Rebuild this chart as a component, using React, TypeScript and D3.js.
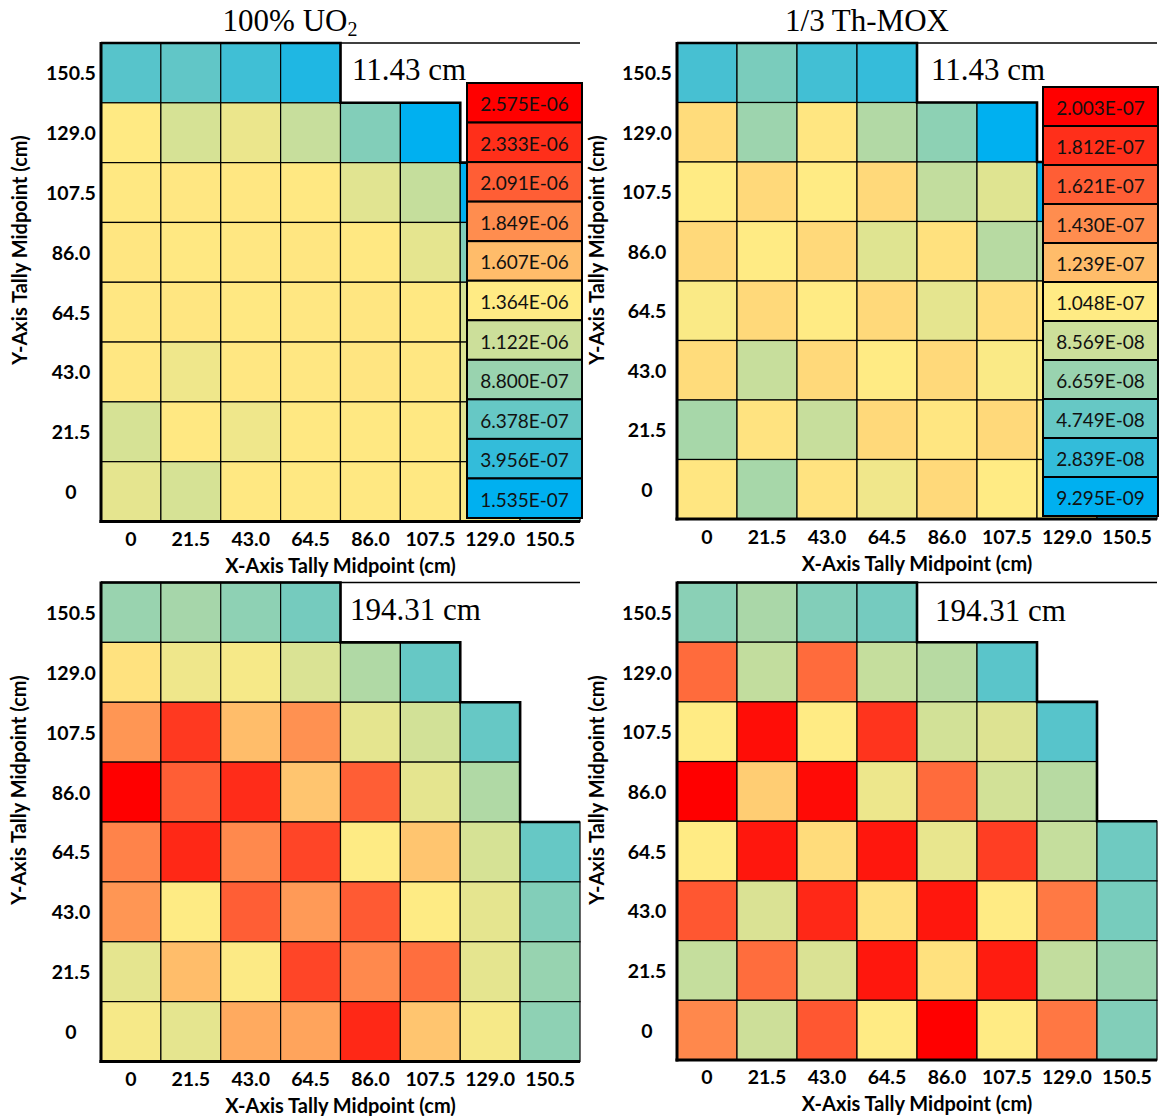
import React from 'react';
import * as d3 from 'd3';

// ---------- data ----------
const xTicks = ['0', '21.5', '43.0', '64.5', '86.0', '107.5', '129.0', '150.5'];
const yTicks = ['150.5', '129.0', '107.5', '86.0', '64.5', '43.0', '21.5', '0'];
const rowLengths = [4, 6, 7, 7, 8, 8, 8, 8];

// UO2 values in units of 1E-06, Th-MOX in units of 1E-08
const uo2Unit = 1e-6;
const thmoxUnit = 1e-8;

const uo2Legend = [2.575, 2.333, 2.091, 1.849, 1.607, 1.364, 1.122, 0.88, 0.6378, 0.3956, 0.1535];
const thmoxLegend = [20.03, 18.12, 16.21, 14.3, 12.39, 10.48, 8.569, 6.659, 4.749, 2.839, 0.9295];

const uo2At1143 = [
  [0.565, 0.615, 0.456, 0.299],
  [1.37, 1.17, 1.27, 1.1, 0.77, 0.1535],
  [1.38, 1.385, 1.385, 1.38, 1.22, 1.09, 0.16],
  [1.39, 1.38, 1.385, 1.39, 1.38, 1.24, 0.76],
  [1.385, 1.39, 1.38, 1.385, 1.39, 1.38, 1.17, 0.7],
  [1.385, 1.29, 1.385, 1.385, 1.395, 1.385, 1.2, 0.7],
  [1.17, 1.38, 1.29, 1.38, 1.38, 1.38, 1.22, 0.75],
  [1.24, 1.17, 1.38, 1.38, 1.38, 1.38, 1.32, 0.7],
];

const thmoxAt1143 = [
  [3.6, 5.5, 3.4, 2.9],
  [11.1, 6.8, 10.7, 7.6, 6.2, 0.93],
  [10.5, 11.2, 10.5, 11.2, 8.2, 9.3, 1.0],
  [11.2, 10.5, 11.2, 9.3, 10.9, 7.8, 7.8],
  [10.3, 11.2, 10.5, 11.2, 9.5, 11.0, 10.6, 5.0],
  [11.1, 8.4, 11.2, 10.5, 11.2, 10.3, 10.5, 4.5],
  [7.2, 10.8, 8.4, 11.2, 10.7, 11.2, 10.4, 4.0],
  [10.7, 7.2, 10.8, 9.9, 11.2, 10.5, 10.4, 3.0],
];

const uo2At19431 = [
  [0.88, 0.94, 0.83, 0.71],
  [1.41, 1.29, 1.32, 1.19, 0.99, 0.64],
  [1.8, 2.28, 1.6, 1.83, 1.24, 1.15, 0.64],
  [2.575, 2.09, 2.35, 1.56, 2.09, 1.24, 0.99],
  [1.9, 2.37, 1.87, 2.22, 1.36, 1.56, 1.17, 0.64],
  [1.8, 1.36, 2.09, 1.78, 2.11, 1.36, 1.24, 0.77],
  [1.24, 1.6, 1.35, 2.22, 1.87, 2.01, 1.24, 0.87],
  [1.32, 1.24, 1.7, 1.73, 2.37, 1.56, 1.32, 0.83],
];

const thmoxAt19431 = [
  [6.1, 7.3, 5.8, 5.3],
  [15.7, 8.2, 15.7, 8.3, 7.8, 4.3],
  [10.5, 19.5, 10.5, 17.9, 8.8, 9.2, 4.2],
  [20.03, 11.7, 19.6, 9.8, 15.7, 8.8, 7.8],
  [10.5, 19.1, 11.1, 19.1, 9.6, 17.5, 8.3, 5.1],
  [16.5, 9.1, 18.4, 10.9, 19.1, 10.5, 15.1, 5.4],
  [8.3, 15.6, 9.1, 19.1, 10.9, 18.9, 8.2, 6.7],
  [14.5, 8.6, 16.5, 10.5, 20.03, 10.5, 15.2, 5.8],
];

// ---------- layout ----------
const W = 1160;
const H = 1116;
const SANS = 'Lato, "Open Sans", sans-serif';
const SERIF = '"Liberation Serif", "Times New Roman", serif';
const TICK_FS = 19.5;
const AXT_FS = 20;
const LEG_FS = 19;

function fmtSci(v: number): string {
  const [m, e] = v.toExponential(3).split('e');
  const n = parseInt(e, 10);
  return m + 'E' + (n < 0 ? '-' : '+') + String(Math.abs(n)).padStart(2, '0');
}

function makeColor(legend: number[]) {
  const lo = d3.min(legend) as number;
  const hi = d3.max(legend) as number;
  return d3
    .scaleLinear<string>()
    .domain([lo, (lo + hi) / 2, hi])
    .range(['#00B0F0', '#FFEB84', '#FF0000'])
    .interpolate(d3.interpolateRgb)
    .clamp(true);
}

const uo2Color = makeColor(uo2Legend);
const thmoxColor = makeColor(thmoxLegend);

type Panel = {
  key: string;
  data: number[][];
  color: (v: number) => string;
  gx: [number, number];
  gy: [number, number];
  title?: React.ReactNode;
  titleX?: number;
  depth: string;
  depthX: number;
  depthY: number;
  yTickX: number;
  yTitleX: number;
  yTitleY: number;
  xTickY: number;
  xTitleY: number;
  legend?: number[];
  unit?: number;
  legendBox?: [number, number, number, number];
};

const panels: Panel[] = [
  {
    key: 'tl',
    data: uo2At1143,
    color: uo2Color,
    gx: [101, 580],
    gy: [43, 521.5],
    title: (
      <>
        100% UO<tspan fontSize={20} dy={5}>2</tspan>
      </>
    ),
    titleX: 290,
    depth: '11.43 cm',
    depthX: 352,
    depthY: 80,
    yTickX: 71,
    yTitleX: 19,
    yTitleY: 250,
    xTickY: 538,
    xTitleY: 565,
    legend: uo2Legend,
    unit: uo2Unit,
    legendBox: [467, 83, 582, 518],
  },
  {
    key: 'tr',
    data: thmoxAt1143,
    color: thmoxColor,
    gx: [677, 1157],
    gy: [43, 519],
    title: '1/3 Th-MOX',
    titleX: 867,
    depth: '11.43 cm',
    depthX: 931,
    depthY: 80,
    yTickX: 647,
    yTitleX: 596,
    yTitleY: 250,
    xTickY: 536,
    xTitleY: 563,
    legend: thmoxLegend,
    unit: thmoxUnit,
    legendBox: [1043, 87, 1158, 516],
  },
  {
    key: 'bl',
    data: uo2At19431,
    color: uo2Color,
    gx: [101, 580],
    gy: [582.5, 1061.5],
    depth: '194.31 cm',
    depthX: 350,
    depthY: 620,
    yTickX: 71,
    yTitleX: 18,
    yTitleY: 790,
    xTickY: 1078,
    xTitleY: 1105,
  },
  {
    key: 'br',
    data: thmoxAt19431,
    color: thmoxColor,
    gx: [677, 1157],
    gy: [582.5, 1060],
    depth: '194.31 cm',
    depthX: 935,
    depthY: 621,
    yTickX: 647,
    yTitleX: 596,
    yTitleY: 790,
    xTickY: 1076,
    xTitleY: 1103,
  },
];

function PanelView({ p }: { p: Panel }) {
  const x = d3.scaleBand<string>().domain(xTicks).range(p.gx).padding(0);
  const y = d3.scaleBand<string>().domain(yTicks).range(p.gy).padding(0);
  const bw = x.bandwidth();
  const bh = y.bandwidth();
  const n = xTicks.length;

  // staircase outline
  const pts: [number, number][] = [[p.gx[0], p.gy[0]]];
  for (let r = 0; r < yTicks.length; r++) {
    const len = rowLengths[r];
    const edge = p.gx[0] + len * bw;
    const top = y(yTicks[r]) as number;
    pts.push([edge, top]);
    if (len < n) pts.push([edge, top + bh]);
    else break;
  }
  const line = d3.line();

  let legendEls: React.ReactNode = null;
  if (p.legend && p.legendBox) {
    const [lx0, ly0, lx1, ly1] = p.legendBox;
    const ly = d3.scaleBand<string>().domain(p.legend.map((_, i) => String(i))).range([ly0, ly1]);
    const unit = p.unit as number;
    legendEls = (
      <g>
        {p.legend.map((v, i) => {
          const yy = ly(String(i)) as number;
          return (
            <g key={i}>
              <rect x={lx0} y={yy} width={lx1 - lx0} height={ly.bandwidth()} fill={p.color(v)} stroke="#000" strokeWidth={2} />
              <text
                x={(lx0 + lx1) / 2}
                y={yy + ly.bandwidth() / 2 + 1}
                textAnchor="middle"
                dominantBaseline="central"
                fontFamily={SANS}
                fontSize={LEG_FS}
                fill="#111"
              >
                {fmtSci(v * unit)}
              </text>
            </g>
          );
        })}
      </g>
    );
  }

  return (
    <g>
      {p.data.map((row, r) =>
        row.map((v, c) => (
          <rect
            key={`${r}-${c}`}
            x={x(xTicks[c])}
            y={y(yTicks[r])}
            width={bw}
            height={bh}
            fill={p.color(v)}
            stroke="#000"
            strokeWidth={1.2}
          />
        ))
      )}
      {/* top frame line */}
      <line x1={p.gx[0]} x2={p.gx[1]} y1={p.gy[0]} y2={p.gy[0]} stroke="#000" strokeWidth={1.5} />
      <path d={line(pts) as string} fill="none" stroke="#000" strokeWidth={2.6} />
      {/* axes */}
      <line x1={p.gx[0]} x2={p.gx[0]} y1={p.gy[0] - 1} y2={p.gy[1] + 1.5} stroke="#000" strokeWidth={3} />
      <line x1={p.gx[0] - 1.5} x2={p.gx[1]} y1={p.gy[1]} y2={p.gy[1]} stroke="#000" strokeWidth={3} />
      {legendEls}
      {/* tick labels */}
      {yTicks.map((t) => (
        <text
          key={t}
          x={p.yTickX}
          y={(y(t) as number) + bh / 2}
          textAnchor="middle"
          dominantBaseline="central"
          fontFamily={SANS}
          fontWeight={700}
          fontSize={TICK_FS}
          fill="#000"
        >
          {t}
        </text>
      ))}
      {xTicks.map((t) => (
        <text
          key={t}
          x={(x(t) as number) + bw / 2}
          y={p.xTickY}
          textAnchor="middle"
          dominantBaseline="central"
          fontFamily={SANS}
          fontWeight={700}
          fontSize={TICK_FS}
          fill="#000"
        >
          {t}
        </text>
      ))}
      <text
        x={(p.gx[0] + p.gx[1]) / 2}
        y={p.xTitleY}
        textAnchor="middle"
        dominantBaseline="central"
        fontFamily={SANS}
        fontWeight={700}
        fontSize={AXT_FS}
        fill="#000"
      >
        X-Axis Tally Midpoint (cm)
      </text>
      <text
        transform={`translate(${p.yTitleX},${p.yTitleY}) rotate(-90)`}
        textAnchor="middle"
        dominantBaseline="central"
        fontFamily={SANS}
        fontWeight={700}
        fontSize={AXT_FS}
        fill="#000"
      >
        Y-Axis Tally Midpoint (cm)
      </text>
      {p.title && (
        <text x={p.titleX} y={31} textAnchor="middle" fontFamily={SERIF} fontSize={31} fill="#000">
          {p.title}
        </text>
      )}
      <text x={p.depthX} y={p.depthY} fontFamily={SERIF} fontSize={31} fill="#000">
        {p.depth}
      </text>
    </g>
  );
}

export default function App() {
  return (
    <svg
      width={W}
      height={H}
      viewBox={`0 0 ${W} ${H}`}
      style={{ position: 'absolute', left: 0, top: 0, background: '#fff' }}
    >
      <rect x={0} y={0} width={W} height={H} fill="#fff" />
      {panels.map((p) => (
        <PanelView key={p.key} p={p} />
      ))}
    </svg>
  );
}
